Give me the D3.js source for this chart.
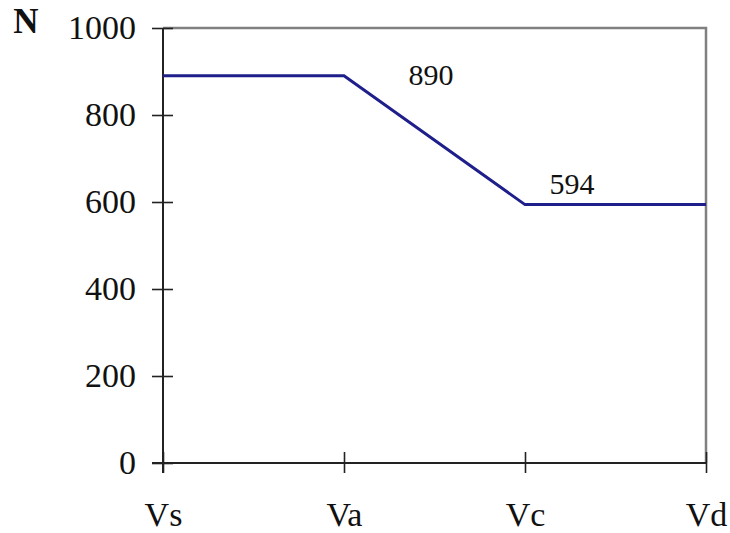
<!DOCTYPE html>
<html>
<head>
<meta charset="utf-8">
<script src="https://cdn.jsdelivr.net/npm/d3@7"></script>
<style>
  body { margin: 0; background: #fff; }
  text { font-family: "Liberation Serif", "Times New Roman", serif; fill: #111; }
</style>
</head>
<body>
<div id="chart"></div>
<script>
var categories = ["Vs", "Va", "Vc", "Vd"];
var values = [890, 890, 594, 594];
var yTicks = [0, 200, 400, 600, 800, 1000];
// label text, position along x (in category steps), value it sits on
var annotations = [
    {label: "890", at: 1.48, value: 890, dy: 9},
    {label: "594", at: 2.26, value: 594, dy: -11}
];

var width = 730, height = 533;
var margin = {top: 28, right: 24, bottom: 70, left: 163};
var innerW = width - margin.left - margin.right,
    innerH = height - margin.top - margin.bottom;

var svg = d3.select("#chart").append("svg")
    .attr("width", width)
    .attr("height", height);

var g = svg.append("g")
    .attr("transform", "translate(" + margin.left + "," + margin.top + ")");

var x = d3.scalePoint().domain(categories).range([0, innerW]);
var xi = d3.scaleLinear().domain([0, categories.length - 1]).range([0, innerW]);
var y = d3.scaleLinear().domain([0, 1000]).range([innerH, 0]);

// grey frame (top + right)
g.append("path")
    .attr("d", "M0,0 H" + innerW + " V" + innerH)
    .attr("fill", "none")
    .attr("stroke", "#808080")
    .attr("stroke-width", 2.5);

// y axis
var yAxis = g.append("g")
    .call(d3.axisLeft(y).tickValues(yTicks).tickFormat(d3.format("d")));
yAxis.select(".domain").remove();
yAxis.selectAll(".tick line").attr("x2", -11).attr("x1", 10)
    .attr("stroke", "#222").attr("stroke-width", 1.6);
yAxis.selectAll(".tick text")
    .attr("x", -27)
    .attr("dy", "0.32em")
    .style("font-family", "Liberation Serif, serif")
    .style("font-size", "34px")
    .attr("fill", "#111");
g.append("line").attr("x1", 0).attr("x2", 0).attr("y1", 0).attr("y2", innerH + 10)
    .attr("stroke", "#222").attr("stroke-width", 2);

// x axis
var xAxis = g.append("g")
    .attr("transform", "translate(0," + innerH + ")")
    .call(d3.axisBottom(x));
xAxis.select(".domain").remove();
xAxis.selectAll(".tick line").attr("y1", -11).attr("y2", 10)
    .attr("stroke", "#222").attr("stroke-width", 1.6);
xAxis.selectAll(".tick text")
    .attr("y", 63)
    .attr("dy", 0)
    .style("font-family", "Liberation Serif, serif")
    .style("font-size", "34px")
    .attr("fill", "#111");
g.append("line").attr("x1", -11).attr("x2", innerW).attr("y1", innerH).attr("y2", innerH)
    .attr("stroke", "#222").attr("stroke-width", 2);

// data line
var line = d3.line()
    .x(function(d, i) { return x(categories[i]); })
    .y(function(d) { return y(d); });

g.append("path")
    .datum(values)
    .attr("d", line)
    .attr("fill", "none")
    .attr("stroke", "#1f1f8c")
    .attr("stroke-width", 3);

// value labels
g.selectAll(".ann")
    .data(annotations)
    .enter().append("text")
    .attr("class", "ann")
    .attr("x", function(d) { return xi(d.at); })
    .attr("y", function(d) { return y(d.value) + d.dy; })
    .attr("text-anchor", "middle")
    .style("font-size", "30px")
    .text(function(d) { return d.label; });

// unit label
svg.append("text")
    .attr("x", 26)
    .attr("y", 33)
    .attr("text-anchor", "middle")
    .style("font-size", "35px")
    .style("font-weight", "bold")
    .text("N");
</script>
</body>
</html>
